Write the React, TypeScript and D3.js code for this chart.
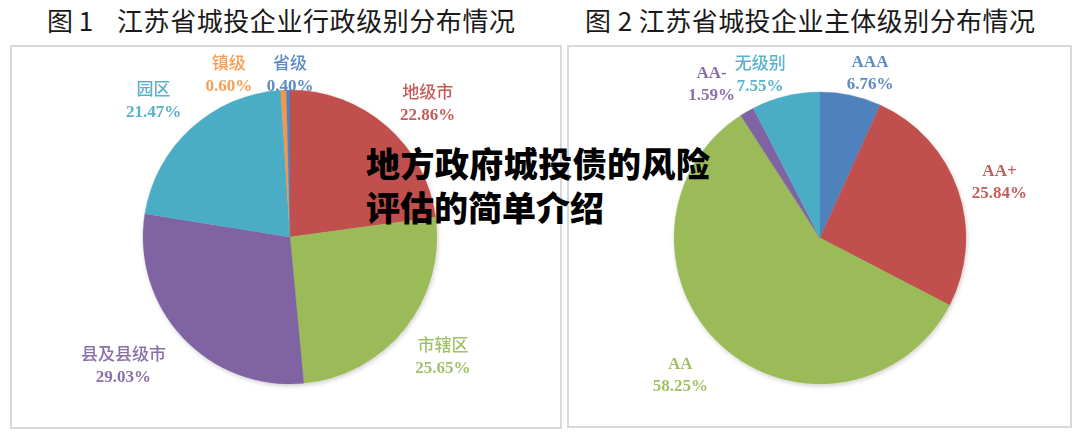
import React from "react";
import * as d3 from "d3";

// ---- data ----
const adminLabels = ["地级市", "市辖区", "县及县级市", "园区", "镇级", "省级"];
const adminValues = [22.86, 25.65, 29.03, 21.47, 0.6, 0.4];
const ratingLabels = ["AAA", "AA+", "AA", "AA-", "无级别"];
const ratingValues = [6.76, 25.84, 58.25, 1.59, 7.55];
const title1Prefix = "图 1";
const title1Text = "江苏省城投企业行政级别分布情况";
const title2 = "图 2 江苏省城投企业主体级别分布情况";
const overlayLines = ["地方政府城投债的风险", "评估的简单介绍"];

// ---- styles ----
const adminColors = ["#C0504D", "#9BBB59", "#8064A2", "#4BACC6", "#F79646", "#4F81BD"];
const ratingColors = ["#4F81BD", "#C0504D", "#9BBB59", "#8064A2", "#4BACC6"];
// layout nudges for labels (dx, dy) relative to polar placement
const adminNudge = [[10, 12], [1, -2], [-25, -5], [-6, 7], [-1, 2], [0, 2]];
const ratingNudge = [[0, 0], [0, 5], [-12, -5], [0, 0], [0, 0]];

const W = 1080;
const H = 440;
const cjk = "'Noto Sans CJK SC', 'Noto Sans', sans-serif";
const serif = "'Liberation Serif', 'Times New Roman', serif";

function isAscii(s: string) {
  return /^[\x00-\x7F]+$/.test(s);
}

type PieProps = {
  cx: number;
  cy: number;
  r: number;
  labels: string[];
  values: number[];
  colors: string[];
  labelR: number;
  nudge: number[][];
  labelFixed?: { [k: number]: { r: number; angle: number } };
};

function Pie(props: PieProps) {
  const { cx, cy, r, labels, values, colors, labelR, nudge, labelFixed } = props;
  const pie = d3.pie<number>().sort(null).value((d) => d);
  const arcs = pie(values);
  const arc = d3.arc<d3.PieArcDatum<number>>().innerRadius(0).outerRadius(r);
  return (
    <g transform={`translate(${cx},${cy})`}>
      <g filter="url(#shadow)">
        {arcs.map((a, i) => (
          <path key={i} d={arc(a) || ""} fill={colors[i]} stroke={colors[i]} strokeWidth={0.3} />
        ))}
      </g>
      {arcs.map((a, i) => {
        let ang = (a.startAngle + a.endAngle) / 2;
        let rr = labelR;
        if (labelFixed && labelFixed[i]) {
          ang = labelFixed[i].angle;
          rr = labelFixed[i].r;
        }
        const x = Math.sin(ang) * rr + nudge[i][0];
        const y = -Math.cos(ang) * rr + nudge[i][1];
        const l1 = labels[i];
        const l2 = values[i].toFixed(2) + "%";
        return (
          <g key={"l" + i} fill={colors[i]} textAnchor="middle" opacity={0.92}>
            <text
              x={x}
              y={y - 5}
              fontSize={17}
              fontFamily={isAscii(l1) ? serif : cjk}
              fontWeight={isAscii(l1) ? 700 : 500}
            >
              {l1}
            </text>
            <text x={x} y={y + 17} fontSize={17} fontFamily={serif} fontWeight={700}>
              {l2}
            </text>
          </g>
        );
      })}
    </g>
  );
}

export default function App() {
  const p1 = { cx: 290, cy: 237, r: 147 };
  const p2 = { cx: 820, cy: 238, r: 146 };
  const deg = Math.PI / 180;
  return (
    <svg
      width={W}
      height={H}
      style={{ position: "fixed", left: 0, top: 0, background: "#fff" }}
      xmlns="http://www.w3.org/2000/svg"
    >
      <defs>
        <filter id="shadow" x="-20%" y="-20%" width="140%" height="140%">
          <feDropShadow dx="1" dy="2" stdDeviation="2" floodColor="#000" floodOpacity="0.18" />
        </filter>
      </defs>
      <rect x={0} y={0} width={W} height={H} fill="#fff" />
      {/* titles */}
      <g fontSize={26} fontFamily={cjk} fill="#1a1a1a">
        <text x={47} y={31}>{title1Prefix}</text>
        <text x={117} y={31} textLength={398} lengthAdjust="spacing">{title1Text}</text>
        <text x={585} y={31} textLength={450} lengthAdjust="spacing">{title2}</text>
      </g>
      {/* frames */}
      <rect x={11} y={46} width={550} height={382} fill="none" stroke="#d9d9d9" strokeWidth={2} />
      <rect x={568} y={46} width={503} height={381} fill="none" stroke="#d9d9d9" strokeWidth={2} />
      <Pie
        {...p1}
        labels={adminLabels}
        values={adminValues}
        colors={adminColors}
        labelR={194}
        nudge={adminNudge}
        labelFixed={{ 4: { r: 176, angle: -20 * deg }, 5: { r: 165, angle: 0 } }}
      />
      <Pie
        {...p2}
        labels={ratingLabels}
        values={ratingValues}
        colors={ratingColors}
        labelR={190}
        nudge={ratingNudge}
        labelFixed={{ 0: { r: 173, angle: 16.8 * deg }, 3: { r: 189, angle: -35 * deg }, 4: { r: 175, angle: -20 * deg } }}
      />
      {/* overlay */}
      <g fontFamily={cjk} fontWeight={900} fontSize={34} fill="#000">
        <text x={366} y={177} textLength={344} lengthAdjust="spacing">
          {overlayLines[0]}
        </text>
        <text x={366} y={221}>
          {overlayLines[1]}
        </text>
      </g>
    </svg>
  );
}
